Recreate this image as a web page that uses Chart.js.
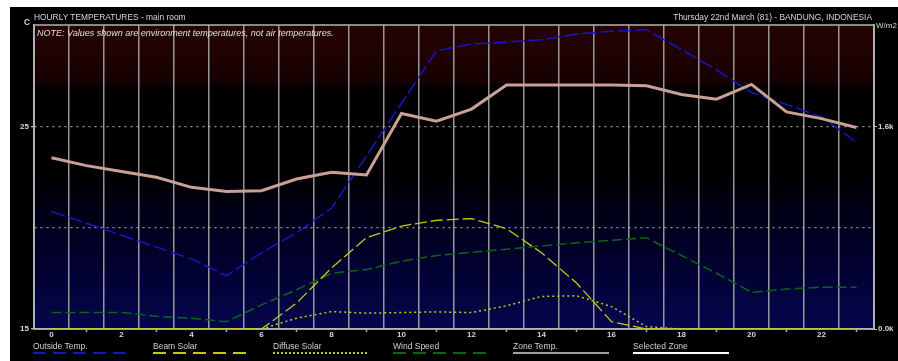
<!DOCTYPE html>
<html>
<head>
<meta charset="utf-8">
<script src="https://cdn.jsdelivr.net/npm/chart.js@4"></script>
<style>
  html, body { margin:0; padding:0; background:#fff; }
  #wrap { position:relative; width:898px; height:361px; overflow:hidden; background:#fff; font-family:"Liberation Sans", Arial, sans-serif; }
  #panel { position:absolute; left:10px; top:7px; right:0; bottom:0; background:#000; }
  #cv { position:absolute; left:0; top:0; width:898px; height:361px; }
  .t { position:absolute; color:#d8d8d8; font-size:8.4px; white-space:nowrap; line-height:10px; }
  .lg { position:absolute; top:342px; color:#d0d0d0; font-size:8.5px; white-space:nowrap; line-height:9px; }
  .lg svg { position:absolute; left:0; top:9px; }
</style>
</head>
<body>
<div id="wrap">
  <div id="panel"></div>
  <div id="cv"><canvas id="c" width="898" height="361"></canvas></div>
  <div class="t" style="left:24px;top:17px;font-weight:bold;">C</div>
  <div class="t" style="left:34px;top:12px;">HOURLY TEMPERATURES - main room</div>
  <div class="t" style="right:26px;top:12px;">Thursday 22nd March (81) - BANDUNG, INDONESIA</div>
  <div class="t" style="left:876px;top:21px;font-size:8px;">W/m2</div>
  <div class="t" style="left:37px;top:28px;font-size:9px;font-style:italic;color:#e0e0e0;">NOTE: Values shown are environment temperatures, not air temperatures.</div>

  <div class="lg" style="left:33px;">Outside Temp.<svg width="96" height="4"><line x1="0" y1="2" x2="96" y2="2" stroke="#1414c0" stroke-width="2" stroke-dasharray="13,7"/></svg></div>
  <div class="lg" style="left:153px;">Beam Solar<svg width="96" height="4"><line x1="0" y1="2" x2="96" y2="2" stroke="#c8c814" stroke-width="2" stroke-dasharray="13,7"/></svg></div>
  <div class="lg" style="left:273px;">Diffuse Solar<svg width="96" height="4"><line x1="0" y1="2" x2="96" y2="2" stroke="#c8c814" stroke-width="2" stroke-dasharray="2,2"/></svg></div>
  <div class="lg" style="left:393px;">Wind Speed<svg width="96" height="4"><line x1="0" y1="2" x2="96" y2="2" stroke="#0a6414" stroke-width="2" stroke-dasharray="13,7"/></svg></div>
  <div class="lg" style="left:513px;">Zone Temp.<svg width="96" height="4"><line x1="0" y1="2" x2="96" y2="2" stroke="#a0a0a0" stroke-width="2"/></svg></div>
  <div class="lg" style="left:633px;">Selected Zone<svg width="96" height="4"><line x1="0" y1="2" x2="96" y2="2" stroke="#ffffff" stroke-width="2"/></svg></div>
</div>
<script>
// ---- data ----
const hours = [0,1,2,3,4,5,6,7,8,9,10,11,12,13,14,15,16,17,18,19,20,21,22,23];
const zoneTemp = [23.45,23.06,22.77,22.49,21.99,21.79,21.82,22.40,22.73,22.60,25.63,25.25,25.85,27.04,27.04,27.04,27.04,27.00,26.57,26.34,27.07,25.71,25.38,24.94];
const outsideTemp = [20.80,20.22,19.62,19.04,18.46,17.63,18.76,19.75,20.96,23.54,26.14,28.73,29.07,29.16,29.27,29.56,29.69,29.77,28.78,27.78,26.67,26.08,25.47,24.22];
const beamSolar = [0,0,0,0,0,0,0,204,482,721,813,858,872,792,602,363,58,0,0,0,0,0,0,0];
const diffuseSolar = [0,0,0,0,0,0,0,85,138,125,130,135,130,183,257,262,177,18,0,0,0,0,0,0];
const windSpeed = [1.3,1.3,1.3,1.0,0.85,0.58,1.9,3.1,4.4,4.7,5.35,5.8,6.05,6.3,6.55,6.8,7.0,7.2,5.8,4.4,2.9,3.15,3.3,3.3];
const leftTickLabels = {15:'15', 25:'25'};
const rightTickLabels = {0:'0.0k', 1600:'1.6k'};

const bgPlugin = {
  id:'bg',
  beforeDraw(chart){
    const {ctx, chartArea:a} = chart;
    const h = a.bottom - a.top;
    const g = ctx.createLinearGradient(0, a.top, 0, a.bottom);
    g.addColorStop(0, 'rgb(36,3,3)');
    g.addColorStop(0.12, 'rgb(30,2,2)');
    g.addColorStop((85-a.top)/h - 0.005, 'rgb(20,0,0)');
    g.addColorStop((85-a.top)/h + 0.005, 'rgb(2,0,0)');
    g.addColorStop((175-a.top)/h, 'rgb(0,0,3)');
    g.addColorStop((230-a.top)/h, 'rgb(0,0,30)');
    g.addColorStop((280-a.top)/h, 'rgb(2,2,55)');
    g.addColorStop(1, 'rgb(6,6,78)');
    ctx.save();
    ctx.fillStyle = g;
    ctx.fillRect(a.left, a.top, a.right - a.left, h);
    ctx.restore();
  },
  beforeDatasetsDraw(chart){
    const {ctx, chartArea:a} = chart;
    ctx.save();
    ctx.strokeStyle = 'rgb(180,180,180)';
    ctx.lineWidth = 1.5;
    ctx.strokeRect(a.left, a.top, a.right - a.left, a.bottom - a.top);
    ctx.restore();
  }
};

const tickFont = {family:'"Liberation Sans", Arial, sans-serif', size:8, weight:'bold'};

new Chart(document.getElementById('c'), {
  type:'line',
  data:{
    labels: hours.map(String),
    datasets:[
      {label:'Selected Zone', data:zoneTemp, yAxisID:'y', borderColor:'rgb(200,160,150)', borderWidth:3},
      {label:'Outside Temp.', data:outsideTemp, yAxisID:'y', borderColor:'rgb(22,22,200)', borderWidth:1.5, borderDash:[14,4]},
      {label:'Beam Solar', data:beamSolar, yAxisID:'yR', borderColor:'rgb(200,200,20)', borderWidth:1.3, borderDash:[12,4]},
      {label:'Diffuse Solar', data:diffuseSolar, yAxisID:'yR', borderColor:'rgb(200,200,20)', borderWidth:1.5, borderDash:[2,3]},
      {label:'Wind Speed', data:windSpeed, yAxisID:'yW', borderColor:'rgb(10,100,20)', borderWidth:1.5, borderDash:[10,4]}
    ]
  },
  options:{
    responsive:false,
    animation:false,
    layout:{padding:{top:25, left:0, right:0, bottom:0}},
    elements:{point:{radius:0}, line:{tension:0, fill:false}},
    plugins:{legend:{display:false}, title:{display:false}, tooltip:{enabled:false}},
    scales:{
      x2:{
        type:'category', position:'bottom', weight:0, offset:true,
        grid:{drawOnChartArea:false, offset:false, tickLength:3, tickWidth:1.5,
              tickColor:(c)=> (c.index % 2 === 1 ? 'rgb(170,170,170)' : 'rgba(0,0,0,0)')},
        border:{display:false},
        ticks:{display:false, autoSkip:false},
        afterFit(s){ s.height = 0; }
      },
      x:{
        type:'category', position:'bottom', weight:1, offset:true,
        grid:{offset:true, color:'rgba(175,175,175,0.85)', lineWidth:1.5, drawTicks:false},
        border:{display:true, color:'rgb(190,190,190)', width:1.5},
        ticks:{color:'#d8d8d8', font:tickFont, maxRotation:0, autoSkip:false, padding:1,
               callback:(v,i)=> (i % 2 === 0 ? hours[i] : '')},
        afterFit(s){ s.height = 32; }
      },
      y:{
        type:'linear', position:'left', min:15, max:30,
        afterBuildTicks(s){ s.ticks = [15,20,25,30].map(v=>({value:v})); },
        grid:{color:(c)=> ((c.tick && (c.tick.value===20 || c.tick.value===25)) ? 'rgba(200,200,200,0.75)' : 'rgba(0,0,0,0)'),
              lineWidth:1.3, tickLength:3,
              tickColor:(c)=> ((c.tick && (c.tick.value===15 || c.tick.value===25)) ? 'rgb(190,190,190)' : 'rgba(0,0,0,0)'),
              tickBorderDash:[]},
        border:{display:true, color:'rgb(190,190,190)', width:1.5, dash:[2,4]},
        ticks:{color:'#d8d8d8', font:tickFont, padding:2, callback:(v)=> (leftTickLabels[v] || '')},
        afterFit(s){ s.width = 34; }
      },
      yR:{
        type:'linear', position:'right', min:0, max:2400,
        afterBuildTicks(s){ s.ticks = [0,800,1600,2400].map(v=>({value:v})); },
        grid:{drawOnChartArea:false, tickLength:3,
              tickColor:(c)=> ((c.tick && (c.tick.value===0 || c.tick.value===1600)) ? 'rgb(190,190,190)' : 'rgba(0,0,0,0)')},
        border:{display:true, color:'rgb(190,190,190)', width:1.5},
        ticks:{color:'#d8d8d8', font:tickFont, padding:1, callback:(v)=> (rightTickLabels[v] || '')},
        afterFit(s){ s.width = 24; }
      },
      yW:{type:'linear', display:false, min:0, max:24}
    }
  },
  plugins:[bgPlugin]
});
</script>
</body>
</html>
